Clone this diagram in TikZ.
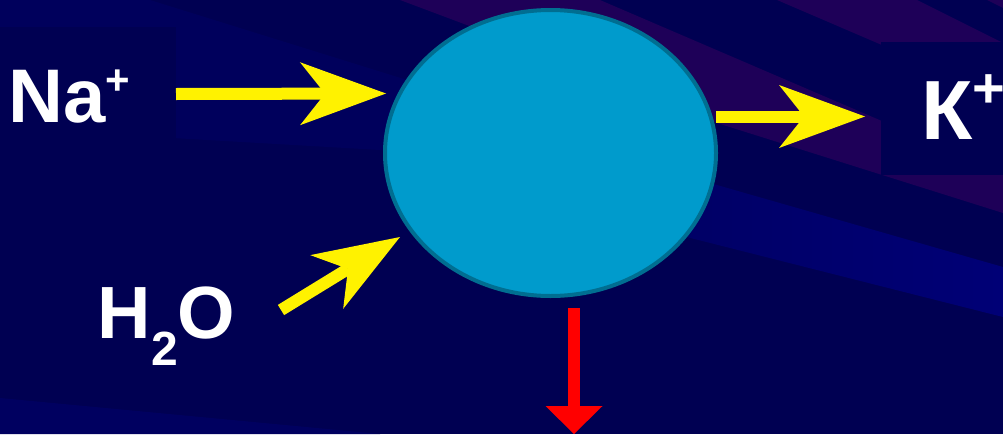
\documentclass[tikz,border=0pt]{standalone}
\usepackage{fontspec}
\setmainfont{Liberation Sans}
\usetikzlibrary{arrows.meta,shapes.geometric}
\definecolor{bgnavy}{RGB}{0,0,82}
\definecolor{bgband}{RGB}{0,0,92}
\definecolor{bgpurple}{RGB}{30,0,88}
\definecolor{bglightL}{RGB}{0,0,96}
\definecolor{bglightR}{RGB}{0,0,118}
\definecolor{cellblue}{RGB}{0,155,204}
\definecolor{cellrim}{RGB}{0,110,145}
\tikzset{
  lbl/.style={anchor=base west, inner sep=0pt, text=white, font=\bfseries},
  textbox/.style={fill=bgnavy},
  cell/.style={ellipse, minimum width=331pt, minimum height=286pt, inner sep=0pt,
    fill=cellblue, draw=cellrim, line width=4pt},
  yarrow/.style={draw=yellow, line width=12pt,
    -{Stealth[length=86pt 0 0, width=63pt 0 0, inset=25pt 0, line width=0pt 0, fill=yellow]}},
  rarrow/.style={draw=red, line width=12pt,
    -{Triangle[length=28pt 0 0, width=57pt 0 0, line width=0pt 0, fill=red]}}
}
\begin{document}
\begin{tikzpicture}[x=1pt,y=-1pt]
\useasboundingbox (0,0) rectangle (1003,434);
\clip (0,0) rectangle (1003,434);
% background
\fill[bgnavy] (0,0) rectangle (1003,434);
\fill[bgband] (150,0) -- (600,140) -- (600,170) -- (380,150) -- (0,128) -- (0,0) -- cycle;
\fill[bgpurple] (400,0) -- (600,0) -- (1003,173) -- (1003,213) -- (717,123) -- (480,30) -- cycle;
\fill[bgpurple] (777,0) -- (917,0) -- (1003,43) -- (1003,97) -- cycle;
\fill[bgpurple] (987,0) -- (1003,0) -- (1003,8) -- cycle;
\shade[left color=bglightL, right color=bglightR] (560,140) -- (1003,267) -- (1003,317) -- (560,205) -- cycle;
\fill[bglightL] (0,398) -- (380,434) -- (0,434) -- cycle;
% text boxes
\fill[textbox] (0,27) rectangle (176,160);
\fill[textbox] (881,42) rectangle (1010,175);
% cell
\node[cell] (cell) at (550.5,153) {};
% connector end points
\coordinate (naS) at (176,94);
\coordinate (naT) at (386,93.5);
\coordinate (hS) at (281,310);
\coordinate (hT) at (400,237);
\coordinate (kS) at (716,116.5);
\coordinate (kT) at (865,116.5);
\coordinate (rS) at (574,308);
\coordinate (rT) at (574,434);
\draw[yarrow] (naS) -- (naT);
\draw[yarrow] (hS) -- (hT);
\draw[yarrow] (kS) -- (kT);
\draw[rarrow] (rS) -- (rT);
% labels
\node[lbl, font=\fontsize{76}{80}\selectfont\bfseries] (na) at (8,122)
  {Na\raisebox{28pt}{\fontsize{42}{42}\selectfont +}};
\node[lbl, font=\fontsize{74}{78}\selectfont\bfseries] (h2o) at (97.5,338)
  {H\raisebox{-27pt}{\fontsize{48}{48}\selectfont 2}O};
\node[lbl, font=\fontsize{84}{88}\selectfont\bfseries] (k) at (921,139)
  {К\raisebox{32pt}{\fontsize{56}{56}\selectfont +}};
\end{tikzpicture}
\end{document}
